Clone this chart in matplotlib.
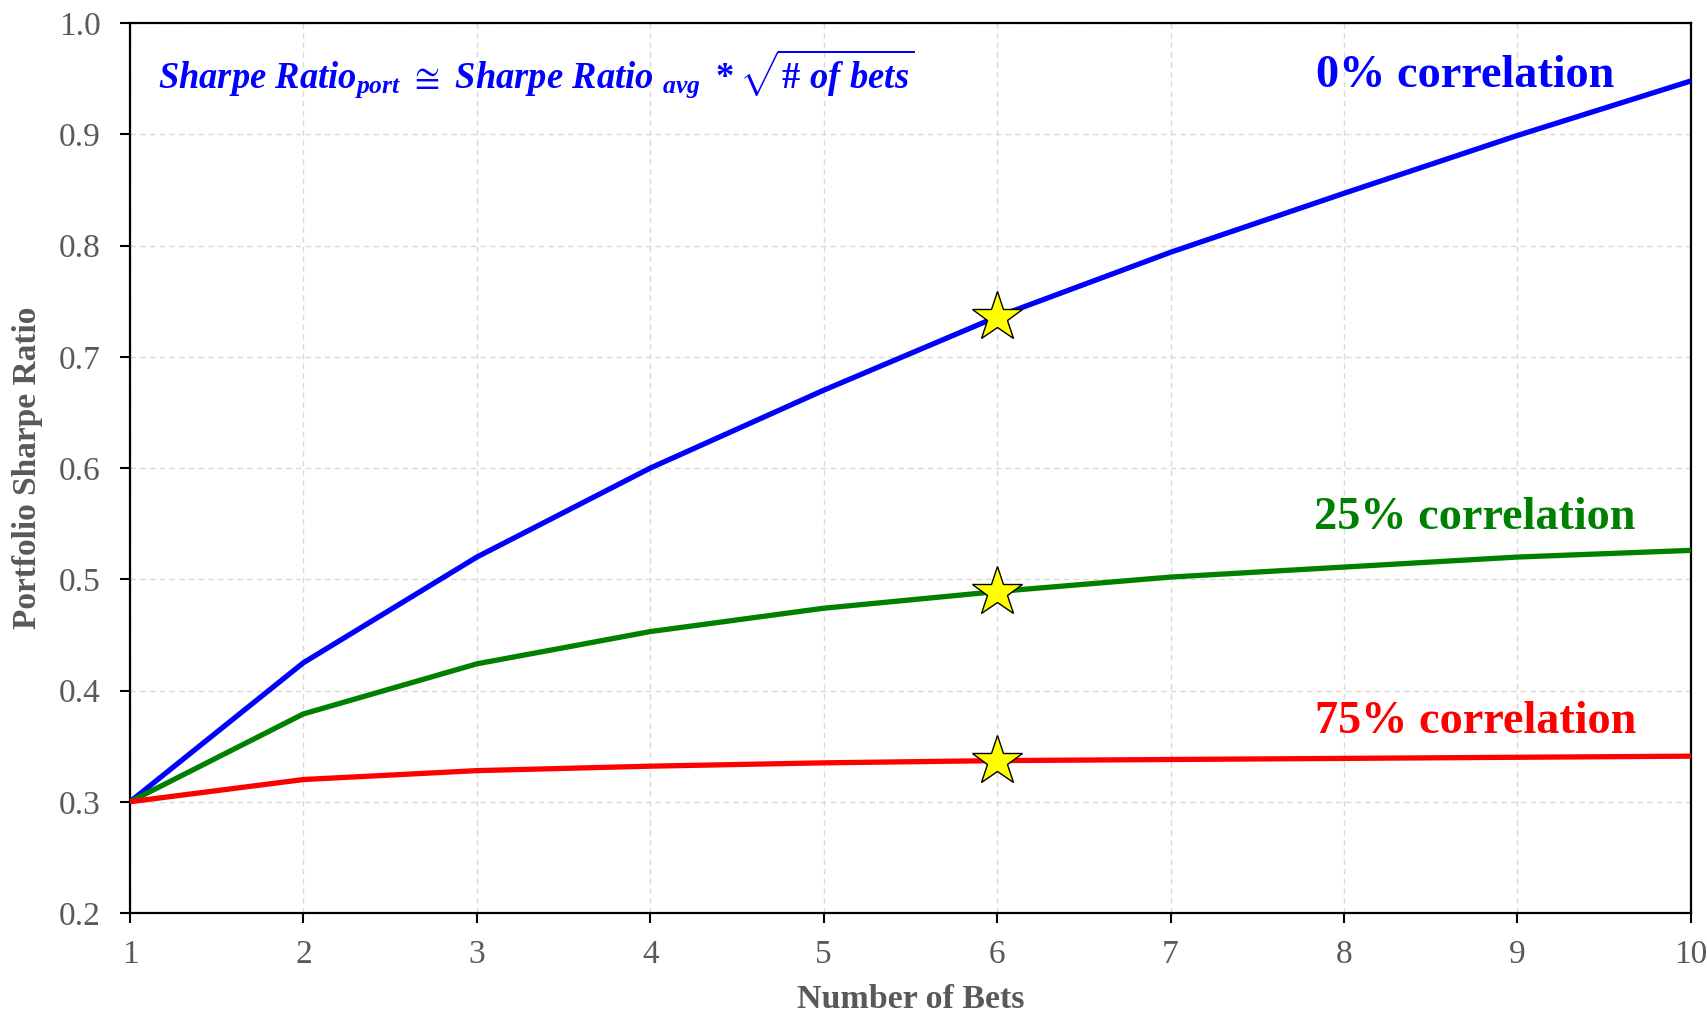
import numpy as np
import matplotlib
matplotlib.use("Agg")
import matplotlib.pyplot as plt

# number of bets on the x axis
bets = [1, 2, 3, 4, 5, 6, 7, 8, 9, 10]

# portfolio sharpe ratio, one list per correlation
sr_0 = [0.300, 0.425, 0.520, 0.600, 0.670, 0.736, 0.794, 0.847, 0.899, 0.948]
sr_25 = [0.300, 0.379, 0.424, 0.453, 0.474, 0.489, 0.502, 0.511, 0.520, 0.526]
sr_75 = [0.300, 0.320, 0.328, 0.332, 0.335, 0.337, 0.338, 0.339, 0.340, 0.341]

series_labels = ["0% correlation", "25% correlation", "75% correlation"]
star_bet = 6

y_ticks = [0.2, 0.3, 0.4, 0.5, 0.6, 0.7, 0.8, 0.9, 1.0]

plt.rcParams['font.family'] = ['Liberation Serif', 'DejaVu Serif']
plt.rcParams['mathtext.fontset'] = 'custom'
plt.rcParams['mathtext.it'] = 'Liberation Serif:italic:bold'
plt.rcParams['mathtext.rm'] = 'Liberation Serif:bold'
plt.rcParams['mathtext.bf'] = 'Liberation Serif:bold:italic'

GRAY = '#595959'

fig = plt.figure(figsize=(17.08, 10.13), dpi=100)
ax = fig.add_axes([0.0761, 0.0987, 0.9139, 0.8785])

colors = ['#0000ff', '#008000', '#ff0000']
all_series = [sr_0, sr_25, sr_75]
for vals, col in zip(all_series, colors):
    ax.plot(bets, vals, color=col, lw=3.8, zorder=3, solid_capstyle='butt')

# yellow stars at 6 bets
idx = bets.index(star_bet)
for vals in all_series:
    ax.plot(bets[idx], vals[idx], marker='*', markersize=38, markerfacecolor='#ffff00',
            markeredgecolor='black', markeredgewidth=1.0, zorder=4, linestyle='none')

ax.set_xlim(1, 10)
ax.set_ylim(0.2, 1.0)
ax.set_xticks(bets)
ax.set_yticks(y_ticks)
ax.set_yticklabels([f"{v:.1f}" for v in y_ticks])
ax.grid(True, color='#d9d9d9', linestyle=(0, (4, 3)), linewidth=1.0)
ax.set_axisbelow(True)

for s in ax.spines.values():
    s.set_color('black')
    s.set_linewidth(1.6)

ax.tick_params(axis='both', direction='out', length=7, width=1.5, color='black',
               labelsize=24, labelcolor=GRAY)
ax.tick_params(axis='x', pad=12)
ax.tick_params(axis='y', pad=14)

ax.set_xlabel("Number of Bets", fontsize=24.5, fontweight='bold', color=GRAY)
ax.set_ylabel("Portfolio Sharpe Ratio", fontsize=24, fontweight='bold', color=GRAY)
ax.xaxis.set_label_coords(0.5, -0.08)
ax.yaxis.set_label_coords(-0.056, 0.5)

# series labels
ax.text(9.56, 0.9425, series_labels[0], color=colors[0], fontsize=33.3, fontweight='bold',
        ha='right', va='baseline')
ax.text(9.683, 0.545, series_labels[1], color=colors[1], fontsize=33.3, fontweight='bold',
        ha='right', va='baseline')
ax.text(9.683, 0.362, series_labels[2], color=colors[2], fontsize=33.3, fontweight='bold',
        ha='right', va='baseline')

# formula
ax.text(0.018, 0.928,
        r"$Sharpe\ Ratio_{port}\ \cong\ Sharpe\ Ratio\ _{avg}\ *\sqrt{\#\ of\ bets}$",
        transform=ax.transAxes, color='#0000ff', fontsize=26.3, ha='left', va='baseline')

fig.savefig("out.png", dpi=100)
